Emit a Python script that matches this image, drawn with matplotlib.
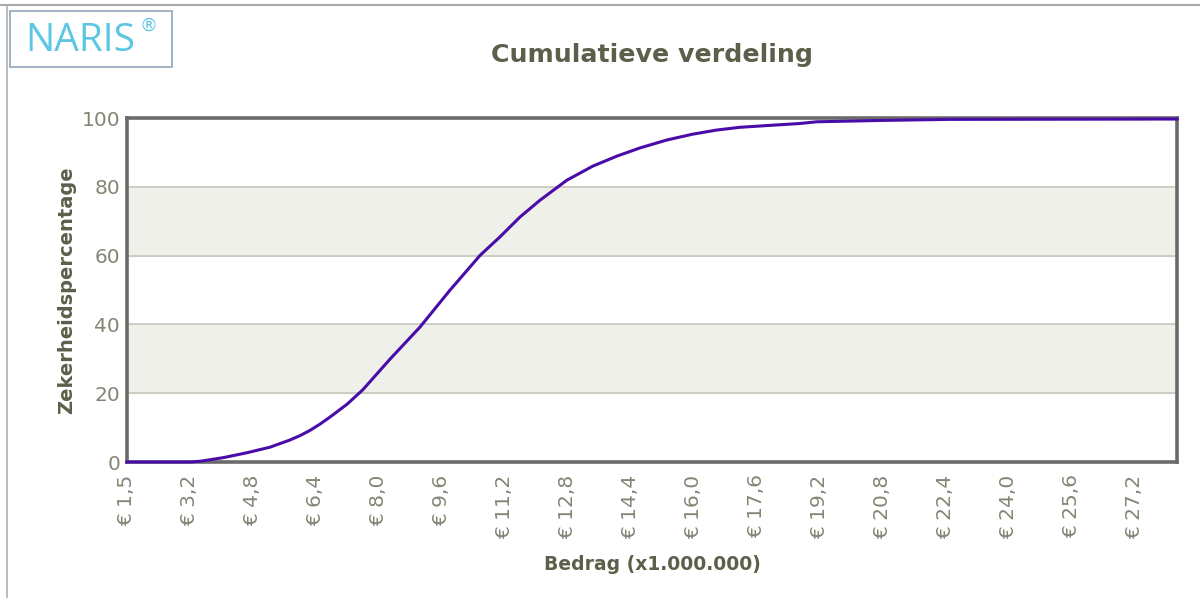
import numpy as np
import matplotlib.pyplot as plt
from matplotlib.lines import Line2D
from matplotlib.patches import Rectangle

bedrag = [1.6, 3.2, 3.45, 4.04, 4.65, 5.23, 5.74, 6.0, 6.25, 6.5, 6.76,
          7.19, 7.59, 7.9, 8.28, 9.04, 9.80, 10.57, 11.07, 11.58, 12.09,
          12.77, 13.43, 14.04, 14.63, 15.31, 15.97, 16.58, 17.17, 17.85,
          18.69, 19.12, 20.80, 22.5, 28.27]
zekerheid = [0.0, 0.0, 0.2, 1.25, 2.7, 4.3, 6.4, 7.7, 9.2, 11.0, 13.1,
             16.8, 21.0, 25.0, 29.9, 39.2, 49.9, 60.1, 65.4, 71.2, 76.1,
             81.9, 86.0, 88.9, 91.3, 93.6, 95.3, 96.5, 97.3, 97.8,
             98.4, 98.9, 99.3, 99.6, 99.7]

x_ticks = [1.6, 3.2, 4.8, 6.4, 8.0, 9.6, 11.2, 12.8, 14.4, 16.0, 17.6,
           19.2, 20.8, 22.4, 24.0, 25.6, 27.2]
x_labels = ['€ 1,5', '€ 3,2', '€ 4,8', '€ 6,4', '€ 8,0', '€ 9,6', '€ 11,2',
            '€ 12,8', '€ 14,4', '€ 16,0', '€ 17,6', '€ 19,2', '€ 20,8',
            '€ 22,4', '€ 24,0', '€ 25,6', '€ 27,2']
y_ticks = [0, 20, 40, 60, 80, 100]

tekst_kleur = '#5c604a'
tick_kleur = '#858575'

fig = plt.figure(figsize=(12, 5.98), dpi=100)
ax = fig.add_axes([127 / 1200, 1 - 462 / 598, 1050 / 1200, 344 / 598])

# banden en rasterlijnen
for lo in (20, 60):
    ax.axhspan(lo, lo + 20, color='#f0f0ea', zorder=0)
for y in (20, 40, 60, 80):
    ax.axhline(y, color='#c6c6bc', lw=1.2, zorder=1)

ax.plot(bedrag, zekerheid, color='#4a0ca8', lw=2.2, zorder=3,
        solid_joinstyle='round', clip_on=False)

ax.set_xlim(1.6, 28.27)
ax.set_ylim(0, 100)
ax.set_xticks(x_ticks)
ax.set_xticklabels(x_labels, rotation=90, color=tick_kleur, fontsize=14.5)
ax.set_yticks(y_ticks)
ax.set_yticklabels([str(v) for v in y_ticks], color=tick_kleur, fontsize=14.5)
ax.tick_params(length=0)
ax.tick_params(axis='x', pad=9)
ax.tick_params(axis='y', pad=5)

for s in ax.spines.values():
    s.set_color('#6a6a6a')
    s.set_linewidth(2.6)

ax.set_xlabel('Bedrag (x1.000.000)', fontsize=13.5, fontweight='bold',
              color=tekst_kleur, labelpad=12)
ax.set_ylabel('Zekerheidspercentage', fontsize=14, fontweight='bold',
              color=tekst_kleur, labelpad=4)
fig.text(652 / 1200, 1 - 55 / 598, 'Cumulatieve verdeling', ha='center',
         va='center', fontsize=18.2, fontweight='bold', color=tekst_kleur)

# logo
fig.patches.append(Rectangle((10 / 1200, 1 - 67 / 598), 162 / 1200, 56 / 598,
                             transform=fig.transFigure, fill=False,
                             edgecolor='#9cacbc', lw=1.3))
fig.text(25 / 1200, 1 - 41 / 598, 'NARIS', ha='left', va='center',
         fontsize=28, color='#5cc6e4', family='Open Sans')
fig.text(148 / 1200, 1 - 26 / 598, '®', ha='center', va='center',
         fontsize=13, color='#5cc6e4')

# schermranden
fig.add_artist(Line2D([0, 1], [1 - 5 / 598, 1 - 5 / 598], color='#a8a8a8',
                      lw=1.5, transform=fig.transFigure))
fig.add_artist(Line2D([7 / 1200, 7 / 1200], [0, 1 - 5 / 598], color='#b0b0b0',
                      lw=1.2, transform=fig.transFigure))

fig.savefig('out.png', dpi=100)
